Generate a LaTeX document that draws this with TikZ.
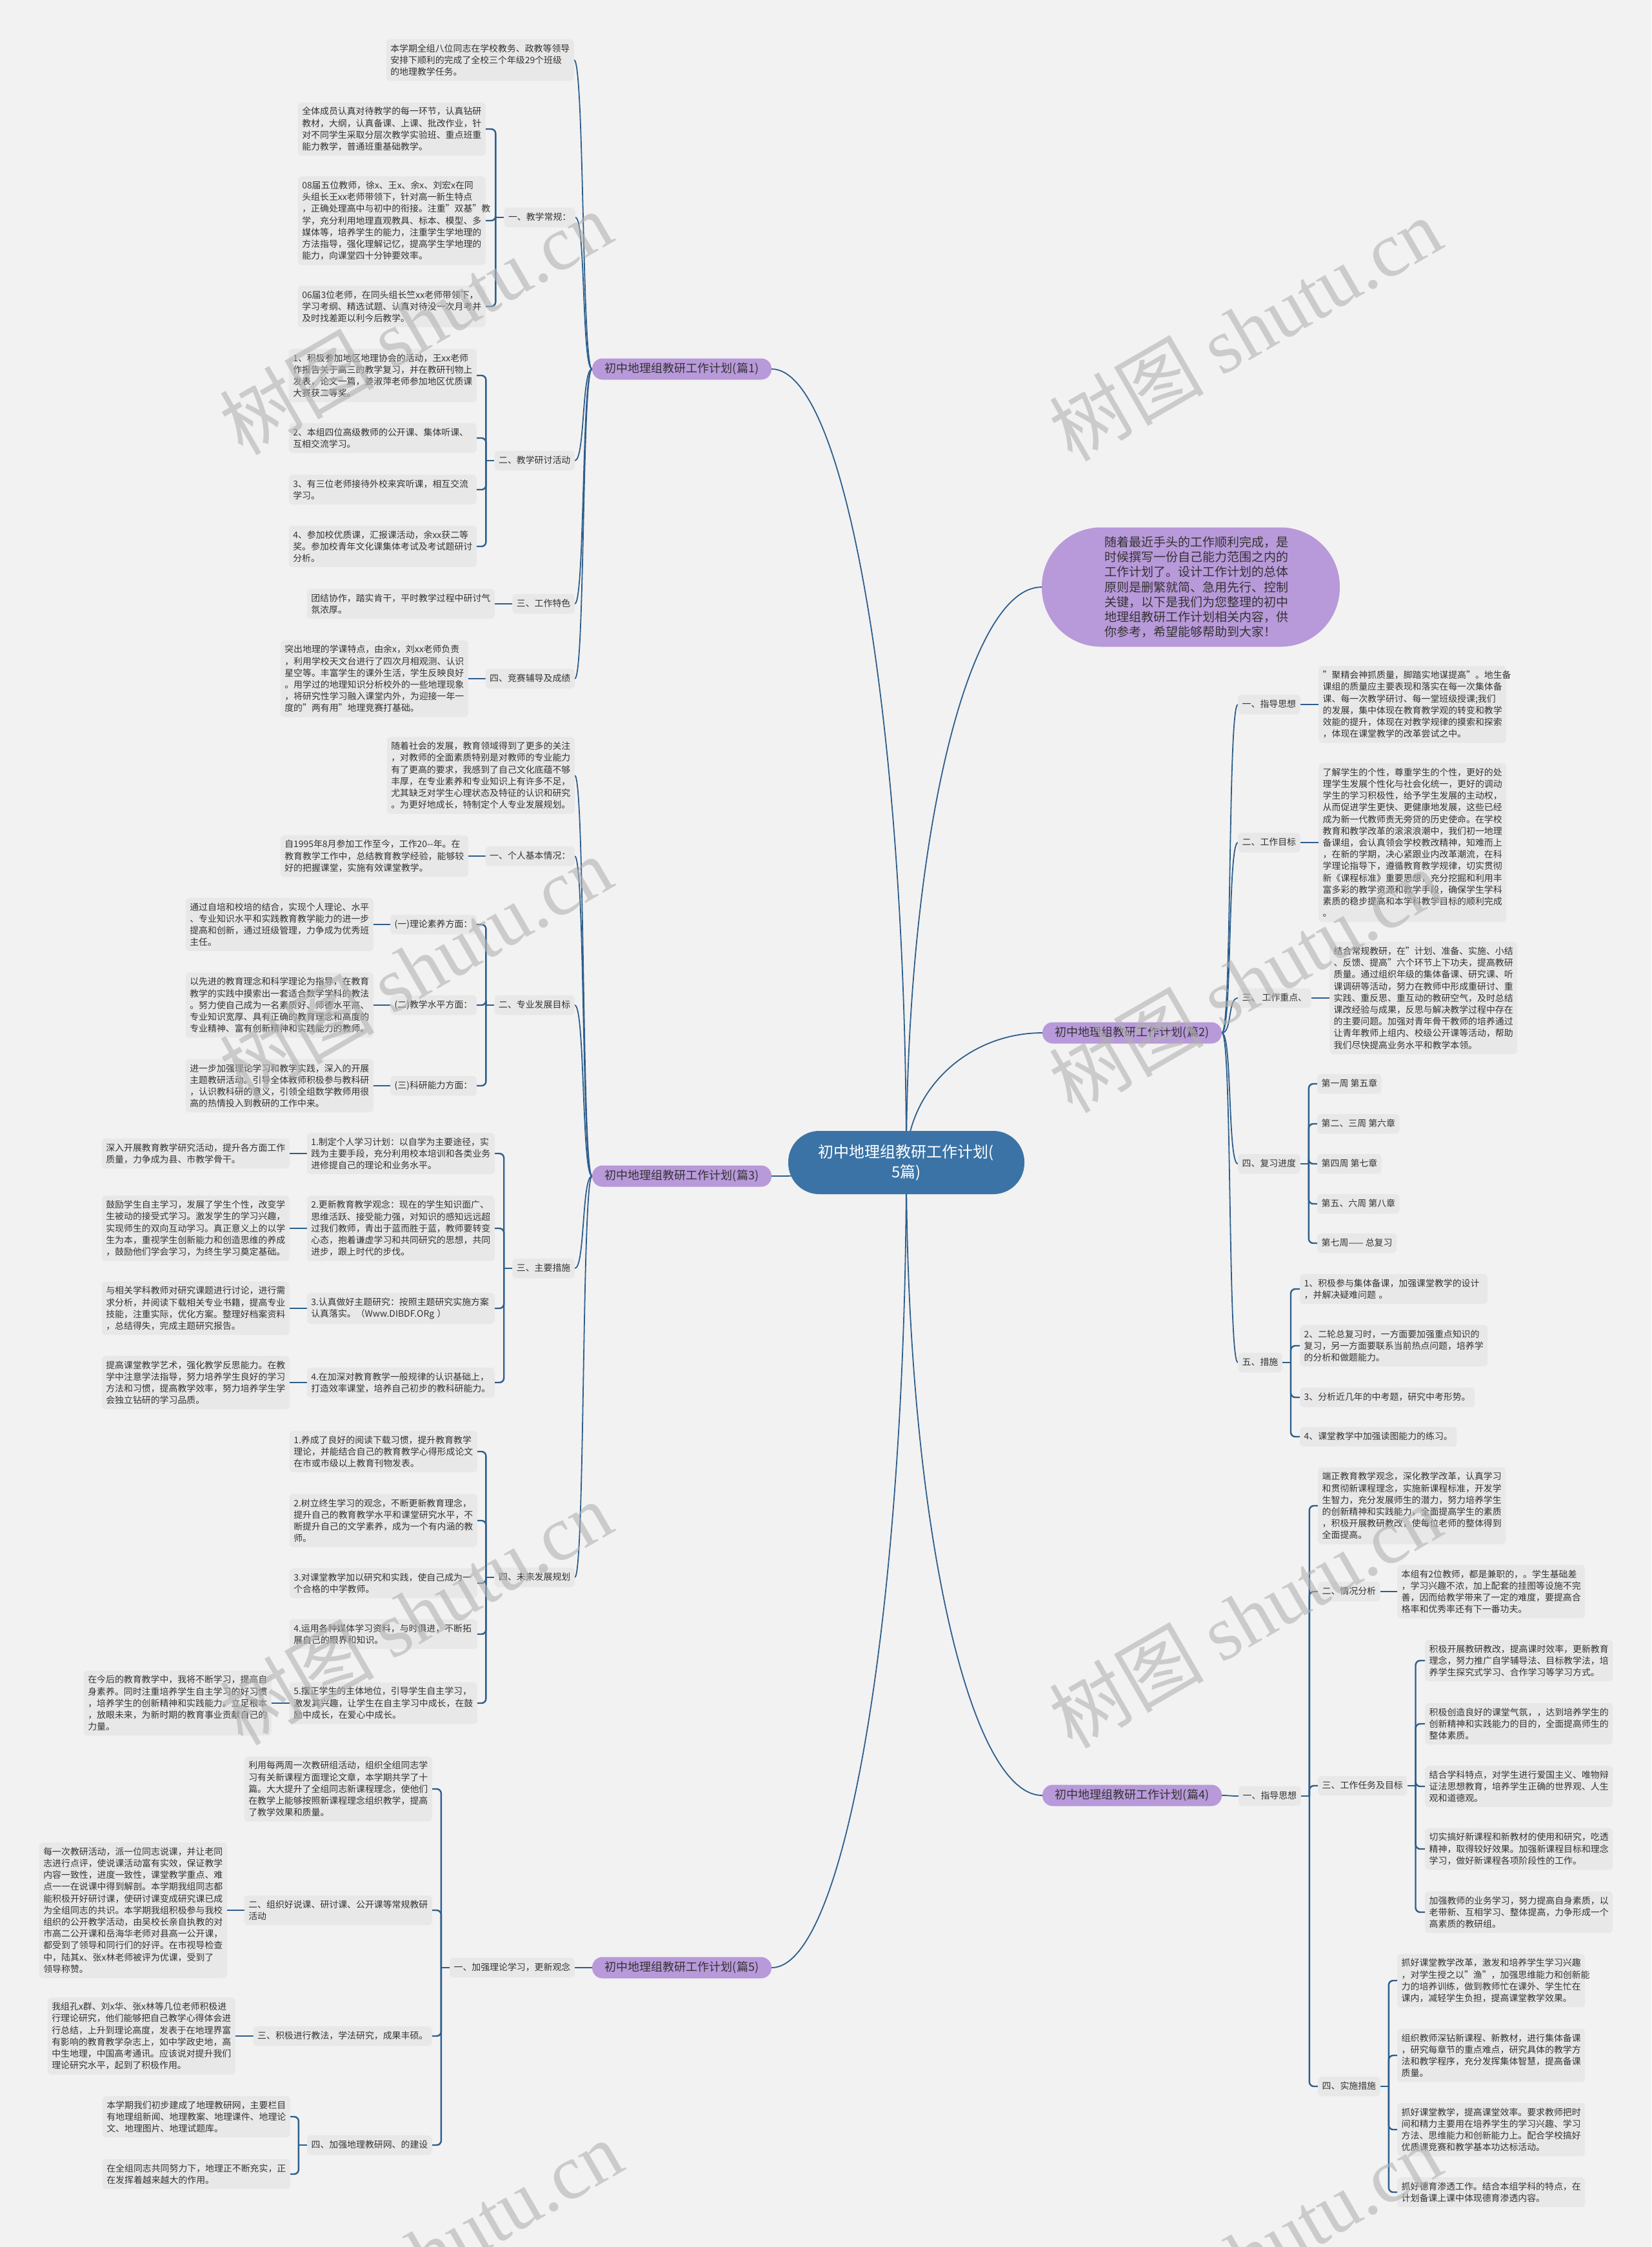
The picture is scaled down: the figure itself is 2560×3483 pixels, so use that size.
\documentclass[tikz,border=0pt]{standalone}
\usepackage{fontspec}
\setmainfont{Noto Sans CJK SC}
\newfontfamily\wmserif{Liberation Serif}
\usepackage{tikz}
\usetikzlibrary{calc,backgrounds}
\definecolor{pagebg}{HTML}{F2F2F2}
\definecolor{boxgray}{HTML}{E8E8E8}
\definecolor{plum}{HTML}{B899D9}
\definecolor{hubblue}{HTML}{3B73A6}
\definecolor{wire}{HTML}{2D5E8C}
\definecolor{ink}{HTML}{333333}
\newcommand{\mmtxt}{\fontsize{13.9}{18.2}\selectfont}
\newcommand{\parttxt}{\fontsize{18}{22}\selectfont}
\newcommand{\hubtxt}{\fontsize{24}{31}\selectfont}
\newcommand{\introtxt}{\fontsize{19}{23.3}\selectfont}
\tikzset{
  leaf/.style    = {rectangle, rounded corners=6pt, fill=boxgray, text=ink, font=\mmtxt,
                    align=left, text width=278pt, inner xsep=6.5pt, inner ysep=7.5pt},
  tag/.style     = {rectangle, rounded corners=6pt, fill=boxgray, text=ink, font=\mmtxt,
                    inner xsep=6.5pt, inner ysep=8pt, text height=11.5pt, text depth=3pt},
  part/.style    = {rectangle, rounded corners=16pt, fill=plum, text=ink, font=\parttxt,
                    minimum width=278pt, minimum height=33pt, inner sep=0pt},
  hubnode/.style = {rectangle, rounded corners=48pt, fill=hubblue, text=white, font=\hubtxt,
                    align=center, text width=300pt, minimum width=366pt, minimum height=98pt},
  blurb/.style   = {rectangle, rounded corners=92pt, fill=plum, text=ink, font=\introtxt,
                    align=left, text width=268pt, minimum width=462pt, minimum height=185pt},
  trunk/.style   = {draw=wire, line width=1.8pt},
  twig/.style    = {draw=wire, line width=2.4pt, rounded corners=7pt},
  wmark/.style   = {rotate=30, text=black!30, opacity=0.6, font=\fontsize{120}{120}\selectfont},
}
% root to a first-level node
\newcommand{\hubto}[1]{\draw[trunk] (root.center) .. controls ($(root.center)!0.552!(root.center|-#1)$) and ($(#1)!0.552!(#1-|root.center)$) .. (#1);}
% first-level node to its children
\newcommand{\partL}[2]{\draw[trunk] (#1.west) .. controls +(-16,0) and +(16,0) .. (#2.east);}
\newcommand{\partR}[2]{\draw[trunk] (#1.east) .. controls +(16,0) and +(-16,0) .. (#2.west);}
% bracket forks
\newcommand{\forkL}[2]{\draw[twig] (#1.west) -- ++(-13,0); \foreach \kid in {#2} \draw[twig] (\kid.east) -| ($(#1.west)+(-13,0)$);}
\newcommand{\forkR}[2]{\draw[twig] (#1.east) -- ++(13,0); \foreach \kid in {#2} \draw[twig] (\kid.west) -| ($(#1.east)+(13,0)$);}

\begin{document}
\begin{tikzpicture}[x=1pt, y=-1pt]
  \useasboundingbox (0,0) rectangle (2560,3483);
  \begin{scope}[on background layer]
    \fill[pagebg] (0,0) rectangle (2560,3483);
  \end{scope}

  \node[hubnode] (root) at (1405,1802) {初中地理组教研工作计划(\\5篇)};
  \node[part] (p1) at (1057,572) {初中地理组教研工作计划(篇1)};
  \node[part] (p3) at (1057,1823) {初中地理组教研工作计划(篇3)};
  \node[part] (p5) at (1057,3050) {初中地理组教研工作计划(篇5)};
  \node[part] (p2) at (1755,1601) {初中地理组教研工作计划(篇2)};
  \node[part] (p4) at (1755,2783) {初中地理组教研工作计划(篇4)};
  \node[blurb] (intro) at (1846,910) {随着最近手头的工作顺利完成，是\\时候撰写一份自己能力范围之内的\\工作计划了。设计工作计划的总体\\原则是删繁就简、急用先行、控制\\关键，以下是我们为您整理的初中\\地理组教研工作计划相关内容，供\\你参考，希望能够帮助到大家！};

  % plan 1
  \node[leaf, anchor=east] (p1i) at (890,93) {本学期全组八位同志在学校教务、政教等领导\\安排下顺利的完成了全校三个年级29个班级\\的地理教学任务。};
  \node[tag, anchor=east] (p1a) at (892,337) {一、教学常规：};
  \node[leaf, anchor=east] (p1a1) at (753,200) {全体成员认真对待教学的每一环节，认真钻研\\教材，大纲，认真备课、上课、批改作业，针\\对不同学生采取分层次教学实验班、重点班重\\能力教学，普通班重基础教学。};
  \node[leaf, anchor=east] (p1a2) at (753,342) {08届五位教师，徐x、王x、余x、刘宏x在同\\头组长王xx老师带领下，针对高一新生特点\\，正确处理高中与初中的衔接。注重"双基"教\\学，充分利用地理直观教具、标本、模型、多\\媒体等，培养学生的能力，注重学生学地理的\\方法指导，强化理解记忆，提高学生学地理的\\能力，向课堂四十分钟要效率。};
  \node[leaf, anchor=east] (p1a3) at (753,475) {06届3位老师，在同头组长竺xx老师带领下，\\学习考纲、精选试题、认真对待没一次月考并\\及时找差距以利今后教学。};
  \node[tag, anchor=east] (p1b) at (891,714) {二、教学研讨活动};
  \node[leaf, anchor=east] (p1b1) at (739,582) {1、积极参加地区地理协会的活动，王xx老师\\作报告关于高三的教学复习，并在教研刊物上\\发表，论文一篇，姜淑萍老师参加地区优质课\\大赛获二等奖。};
  \node[leaf, anchor=east] (p1b2) at (739,679) {2、本组四位高级教师的公开课、集体听课、\\互相交流学习。};
  \node[leaf, anchor=east] (p1b3) at (739,759) {3、有三位老师接待外校来宾听课，相互交流\\学习。};
  \node[leaf, anchor=east] (p1b4) at (739,847) {4、参加校优质课，汇报课活动，余xx获二等\\奖。参加校青年文化课集体考试及考试题研讨\\分析。};
  \node[tag, anchor=east] (p1c) at (891,936) {三、工作特色};
  \node[leaf, anchor=east] (p1c1) at (767,936) {团结协作，踏实肯干，平时教学过程中研讨气\\氛浓厚。};
  \node[tag, anchor=east] (p1d) at (891,1052) {四、竞赛辅导及成绩};
  \node[leaf, anchor=east] (p1d1) at (726,1052) {突出地理的学课特点，由余x，刘xx老师负责\\，利用学校天文台进行了四次月相观测、认识\\星空等。丰富学生的课外生活，学生反映良好\\。用学过的地理知识分析校外的一些地理现象\\，将研究性学习融入课堂内外，为迎接一年一\\度的"两有用"地理竞赛打基础。};

  % plan 3
  \node[leaf, anchor=east] (p3i) at (891,1202) {随着社会的发展，教育领域得到了更多的关注\\，对教师的全面素质特别是对教师的专业能力\\有了更高的要求，我感到了自己文化底蕴不够\\丰厚，在专业素养和专业知识上有许多不足，\\尤其缺乏对学生心理状态及特征的认识和研究\\。为更好地成长，特制定个人专业发展规划。};
  \node[tag, anchor=east] (p3a) at (891,1327) {一、个人基本情况：};
  \node[leaf, anchor=east] (p3a1) at (726,1327) {自1995年8月参加工作至今，工作20{-}{-}年。在\\教育教学工作中，总结教育教学经验，能够较\\好的把握课堂，实施有效课堂教学。};
  \node[tag, anchor=east] (p3b) at (891,1558) {二、专业发展目标};
  \node[tag, anchor=east] (p3b1) at (739,1433) {(一)理论素养方面：};
  \node[leaf, anchor=east] (p3b1a) at (579,1433) {通过自培和校培的结合，实现个人理论、水平\\、专业知识水平和实践教育教学能力的进一步\\提高和创新，通过班级管理，力争成为优秀班\\主任。};
  \node[tag, anchor=east] (p3b2) at (739,1558) {(二)教学水平方面：};
  \node[leaf, anchor=east] (p3b2a) at (579,1558) {以先进的教育理念和科学理论为指导，在教育\\教学的实践中摸索出一套适合数学学科的教法\\。努力使自己成为一名素质好、师德水平高、\\专业知识宽厚、具有正确的教育理念和高度的\\专业精神、富有创新精神和实践能力的教师。};
  \node[tag, anchor=east] (p3b3) at (739,1683) {(三)科研能力方面：};
  \node[leaf, anchor=east] (p3b3a) at (579,1683) {进一步加强理论学习和教学实践，深入的开展\\主题教研活动。引导全体教师积极参与教科研\\，认识教科研的意义，引领全组数学教师用很\\高的热情投入到教研的工作中来。};
  \node[tag, anchor=east] (p3c) at (891,1966) {三、主要措施};
  \node[leaf, anchor=east] (p3c1) at (767,1788) {1.制定个人学习计划：以自学为主要途径，实\\践为主要手段，充分利用校本培训和各类业务\\进修提自己的理论和业务水平。};
  \node[leaf, anchor=east] (p3c1a) at (449,1788) {深入开展教育教学研究活动，提升各方面工作\\质量，力争成为县、市教学骨干。};
  \node[leaf, anchor=east] (p3c2) at (767,1904) {2.更新教育教学观念：现在的学生知识面广、\\思维活跃、接受能力强，对知识的感知远远超\\过我们教师，青出于蓝而胜于蓝，教师要转变\\心态，抱着谦虚学习和共同研究的思想，共同\\进步，跟上时代的步伐。};
  \node[leaf, anchor=east] (p3c2a) at (449,1904) {鼓励学生自主学习，发展了学生个性，改变学\\生被动的接受式学习。激发学生的学习兴趣，\\实现师生的双向互动学习。真正意义上的以学\\生为本，重视学生创新能力和创造思维的养成\\，鼓励他们学会学习，为终生学习奠定基础。};
  \node[leaf, anchor=east] (p3c3) at (767,2028) {3.认真做好主题研究：按照主题研究实施方案\\认真落实。（Www.DIBDF.ORg ）};
  \node[leaf, anchor=east] (p3c3a) at (449,2028) {与相关学科教师对研究课题进行讨论，进行需\\求分析，并阅读下载相关专业书籍，提高专业\\技能，注重实际，优化方案。整理好档案资料\\，总结得失，完成主题研究报告。};
  \node[leaf, anchor=east] (p3c4) at (767,2143) {4.在加深对教育教学一般规律的认识基础上，\\打造效率课堂，培养自己初步的教科研能力。};
  \node[leaf, anchor=east] (p3c4a) at (449,2143) {提高课堂教学艺术，强化教学反思能力。在教\\学中注意学法指导，努力培养学生良好的学习\\方法和习惯，提高教学效率，努力培养学生学\\会独立钻研的学习品质。};
  \node[tag, anchor=east] (p3d) at (891,2445) {四、未来发展规划};
  \node[leaf, anchor=east] (p3d1) at (740,2250) {1.养成了良好的阅读下载习惯，提升教育教学\\理论，并能结合自己的教育教学心得形成论文\\在市或市级以上教育刊物发表。};
  \node[leaf, anchor=east] (p3d2) at (740,2357) {2.树立终生学习的观念，不断更新教育理念，\\提升自己的教育教学水平和课堂研究水平，不\\断提升自己的文学素养，成为一个有内涵的教\\师。};
  \node[leaf, anchor=east] (p3d3) at (740,2454) {3.对课堂教学加以研究和实践，使自己成为一\\个合格的中学教师。};
  \node[leaf, anchor=east] (p3d4) at (740,2533) {4.运用各种媒体学习资料，与时俱进，不断拓\\展自己的眼界和知识。};
  \node[leaf, anchor=east] (p3d5) at (740,2640) {5.摆正学生的主体地位，引导学生自主学习，\\激发其兴趣，让学生在自主学习中成长，在鼓\\励中成长，在爱心中成长。};
  \node[leaf, anchor=east] (p3d5a) at (421,2640) {在今后的教育教学中，我将不断学习，提高自\\身素养。同时注重培养学生自主学习的好习惯\\，培养学生的创新精神和实践能力。立足根本\\，放眼未来，为新时期的教育事业贡献自己的\\力量。};

  % plan 5
  \node[tag, anchor=east] (p5a) at (891,3050) {一、加强理论学习，更新观念};
  \node[leaf, anchor=east] (p5a1) at (670,2773) {利用每两周一次教研组活动，组织全组同志学\\习有关新课程方面理论文章，本学期共学了十\\篇。大大提升了全组同志新课程理念，使他们\\在教学上能够按照新课程理念组织教学，提高\\了教学效果和质量。};
  \node[leaf, anchor=east] (p5a2) at (670,2961) {二、组织好说课、研讨课、公开课等常规教研\\活动};
  \node[leaf, anchor=east] (p5a2a) at (352,2961) {每一次教研活动，派一位同志说课，并让老同\\志进行点评，使说课活动富有实效，保证教学\\内容一致性，进度一致性，课堂教学重点、难\\点一一在说课中得到解剖。本学期我组同志都\\能积极开好研讨课，使研讨课变成研究课已成\\为全组同志的共识。本学期我组积极参与我校\\组织的公开教学活动，由吴校长亲自执教的对\\市高二公开课和岳海华老师对县高一公开课，\\都受到了领导和同行们的好评。在市视导检查\\中，陆其x、张x林老师被评为优课，受到了\\领导称赞。};
  \node[tag, anchor=east] (p5a3) at (670,3156) {三、积极进行教法，学法研究，成果丰硕。};
  \node[leaf, anchor=east] (p5a3a) at (365,3156) {我组孔x群、刘x华、张x林等几位老师积极进\\行理论研究，他们能够把自己教学心得体会进\\行总结，上升到理论高度，发表于在地理界富\\有影响的教育教学杂志上，如中学政史地，高\\中生地理，中国高考通讯。应该说对提升我们\\理论研究水平，起到了积极作用。};
  \node[tag, anchor=east] (p5a4) at (670,3325) {四、加强地理教研网、的建设};
  \node[leaf, anchor=east] (p5a4a) at (450,3281) {本学期我们初步建成了地理教研网，主要栏目\\有地理组新闻、地理教案、地理课件、地理论\\文、地理图片、地理试题库。};
  \node[leaf, anchor=east] (p5a4b) at (450,3370) {在全组同志共同努力下，地理正不断充实，正\\在发挥着越来越大的作用。};

  % plan 2
  \node[tag, anchor=west] (p2a) at (1919,1092) {一、指导思想};
  \node[leaf, anchor=west] (p2a1) at (2044,1092) {"聚精会神抓质量，脚踏实地谋提高"。地生备\\课组的质量应主要表现和落实在每一次集体备\\课、每一次教学研讨、每一堂班级授课;我们\\的发展，集中体现在教育教学观的转变和教学\\效能的提升，体现在对教学规律的摸索和探索\\，体现在课堂教学的改革尝试之中。};
  \node[tag, anchor=west] (p2b) at (1919,1306) {二、工作目标};
  \node[leaf, anchor=west] (p2b1) at (2044,1306) {了解学生的个性，尊重学生的个性，更好的处\\理学生发展个性化与社会化统一，更好的调动\\学生的学习积极性，给予学生发展的主动权，\\从而促进学生更快、更健康地发展，这些已经\\成为新一代教师责无旁贷的历史使命。在学校\\教育和教学改革的滚滚浪潮中，我们初一地理\\备课组，会认真领会学校教改精神，知难而上\\，在新的学期，决心紧跟业内改革潮流，在科\\学理论指导下，遵循教育教学规律，切实贯彻\\新《课程标准》重要思想，充分挖掘和利用丰\\富多彩的教学资源和教学手段，确保学生学科\\素质的稳步提高和本学科教学目标的顺利完成\\。};
  \node[tag, anchor=west] (p2c) at (1919,1547) {三、 工作重点、};
  \node[leaf, anchor=west] (p2c1) at (2061,1547) {结合常规教研，在"计划、准备、实施、小结\\、反馈、提高"六个环节上下功夫，提高教研\\质量。通过组织年级的集体备课、研究课、听\\课调研等活动，努力在教师中形成重研讨、重\\实践、重反思、重互动的教研空气，及时总结\\课改经验与成果，反思与解决教学过程中存在\\的主要问题。加强对青年骨干教师的培养通过\\让青年教师上组内、校级公开课等活动，帮助\\我们尽快提高业务水平和教学本领。};
  \node[tag, anchor=west] (p2d) at (1919,1804) {四、复习进度};
  \node[tag, anchor=west] (p2d1) at (2042,1680) {第一周 第五章};
  \node[tag, anchor=west] (p2d2) at (2042,1742) {第二、三周 第六章};
  \node[tag, anchor=west] (p2d3) at (2042,1804) {第四周 第七章};
  \node[tag, anchor=west] (p2d4) at (2042,1866) {第五、六周 第八章};
  \node[tag, anchor=west] (p2d5) at (2042,1927) {第七周—— 总复习};
  \node[tag, anchor=west] (p2e) at (1919,2112) {五、措施};
  \node[leaf, anchor=west] (p2e1) at (2015,1998) {1、积极参与集体备课，加强课堂教学的设计\\，并解决疑难问题 。};
  \node[leaf, anchor=west] (p2e2) at (2015,2086) {2、二轮总复习时，一方面要加强重点知识的\\复习，另一方面要联系当前热点问题，培养学\\的分析和做题能力。};
  \node[tag, anchor=west] (p2e3) at (2015,2166) {3、分析近几年的中考题，研究中考形势。};
  \node[tag, anchor=west] (p2e4) at (2015,2227) {4、课堂教学中加强读图能力的练习。};

  % plan 4
  \node[tag, anchor=west] (p4a) at (1920,2784) {一、指导思想};
  \node[leaf, anchor=west] (p4a1) at (2043,2334) {端正教育教学观念，深化教学改革，认真学习\\和贯彻新课程理念，实施新课程标准，开发学\\生智力，充分发展师生的潜力，努力培养学生\\的创新精神和实践能力，全面提高学生的素质\\，积极开展教研教改，使每位老师的整体得到\\全面提高。};
  \node[tag, anchor=west] (p4a2) at (2043,2467) {二、情况分析};
  \node[leaf, anchor=west] (p4a2a) at (2166,2467) {本组有2位教师，都是兼职的，。学生基础差\\，学习兴趣不浓，加上配套的挂图等设施不完\\善，因而给教学带来了一定的难度，要提高合\\格率和优秀率还有下一番功夫。};
  \node[tag, anchor=west] (p4a3) at (2043,2768) {三、工作任务及目标};
  \node[leaf, anchor=west] (p4a3a) at (2209,2574) {积极开展教研教改，提高课时效率，更新教育\\理念，努力推广自学辅导法、目标教学法，培\\养学生探究式学习、合作学习等学习方式。};
  \node[leaf, anchor=west] (p4a3b) at (2209,2672) {积极创造良好的课堂气氛，，达到培养学生的\\创新精神和实践能力的目的，全面提高师生的\\整体素质。};
  \node[leaf, anchor=west] (p4a3c) at (2209,2769) {结合学科特点，对学生进行爱国主义、唯物辩\\证法思想教育，培养学生正确的世界观、人生\\观和道德观。};
  \node[leaf, anchor=west] (p4a3d) at (2209,2866) {切实搞好新课程和新教材的使用和研究，吃透\\精神，取得较好效果。加强新课程目标和理念\\学习，做好新课程各项阶段性的工作。};
  \node[leaf, anchor=west] (p4a3e) at (2209,2964) {加强教师的业务学习，努力提高自身素质，以\\老带新、互相学习、整体提高，力争形成一个\\高素质的教研组。};
  \node[tag, anchor=west] (p4a4) at (2043,3234) {四、实施措施};
  \node[leaf, anchor=west] (p4a4a) at (2166,3070) {抓好课堂教学改革，激发和培养学生学习兴趣\\，对学生授之以"渔"，加强思维能力和创新能\\力的培养训练，做到教师忙在课外、学生忙在\\课内，减轻学生负担，提高课堂教学效果。};
  \node[leaf, anchor=west] (p4a4b) at (2166,3186) {组织教师深钻新课程、新教材，进行集体备课\\，研究每章节的重点难点，研究具体的教学方\\法和教学程序，充分发挥集体智慧，提高备课\\质量。};
  \node[leaf, anchor=west] (p4a4c) at (2166,3301) {抓好课堂教学，提高课堂效率。要求教师把时\\间和精力主要用在培养学生的学习兴趣、学习\\方法、思维能力和创新能力上。配合学校搞好\\优质课竞赛和教学基本功达标活动。};
  \node[leaf, anchor=west] (p4a4d) at (2166,3398) {抓好德育渗透工作。结合本组学科的特点，在\\计划备课上课中体现德育渗透内容。};

  \begin{scope}[on background layer]
    \hubto{p1.east} \hubto{p3.east} \hubto{p5.east}
    \hubto{intro.west} \hubto{p2.west} \hubto{p4.west}
    \partL{p1}{p1i} \partL{p1}{p1a} \partL{p1}{p1b} \partL{p1}{p1c} \partL{p1}{p1d}
    \partL{p3}{p3i} \partL{p3}{p3a} \partL{p3}{p3b} \partL{p3}{p3c} \partL{p3}{p3d}
    \partL{p5}{p5a}
    \partR{p2}{p2a} \partR{p2}{p2b} \partR{p2}{p2c} \partR{p2}{p2d} \partR{p2}{p2e}
    \partR{p4}{p4a}
    \forkL{p1a}{p1a1,p1a2,p1a3}
    \forkL{p1b}{p1b1,p1b2,p1b3,p1b4}
    \draw[twig] (p1c.west) -- (p1c1.east);
    \draw[twig] (p1d.west) -- (p1d1.east);
    \draw[twig] (p3a.west) -- (p3a1.east);
    \forkL{p3b}{p3b1,p3b2,p3b3}
    \draw[twig] (p3b1.west) -- (p3b1a.east);
    \draw[twig] (p3b2.west) -- (p3b2a.east);
    \draw[twig] (p3b3.west) -- (p3b3a.east);
    \forkL{p3c}{p3c1,p3c2,p3c3,p3c4}
    \draw[twig] (p3c1.west) -- (p3c1a.east);
    \draw[twig] (p3c2.west) -- (p3c2a.east);
    \draw[twig] (p3c3.west) -- (p3c3a.east);
    \draw[twig] (p3c4.west) -- (p3c4a.east);
    \forkL{p3d}{p3d1,p3d2,p3d3,p3d4,p3d5}
    \draw[twig] (p3d5.west) -- (p3d5a.east);
    \forkL{p5a}{p5a1,p5a2,p5a3,p5a4}
    \draw[twig] (p5a2.west) -- (p5a2a.east);
    \draw[twig] (p5a3.west) -- (p5a3a.east);
    \forkL{p5a4}{p5a4a,p5a4b}
    \draw[twig] (p2a.east) -- (p2a1.west);
    \draw[twig] (p2b.east) -- (p2b1.west);
    \draw[twig] (p2c.east) -- (p2c1.west);
    \forkR{p2d}{p2d1,p2d2,p2d3,p2d4,p2d5}
    \forkR{p2e}{p2e1,p2e2,p2e3,p2e4}
    \forkR{p4a}{p4a1,p4a2,p4a3,p4a4}
    \draw[twig] (p4a2.east) -- (p4a2a.west);
    \forkR{p4a3}{p4a3a,p4a3b,p4a3c,p4a3d,p4a3e}
    \forkR{p4a4}{p4a4a,p4a4b,p4a4c,p4a4d}
  \end{scope}

  % watermark
  \foreach \wx/\wy in {644/500,1930/510,644/1500,1930/1520,644/2500,1930/2505,660/3490,1930/3495}
    \node[wmark] at (\wx,\wy) {树图 {\wmserif shutu.cn}};
\end{tikzpicture}
\end{document}
